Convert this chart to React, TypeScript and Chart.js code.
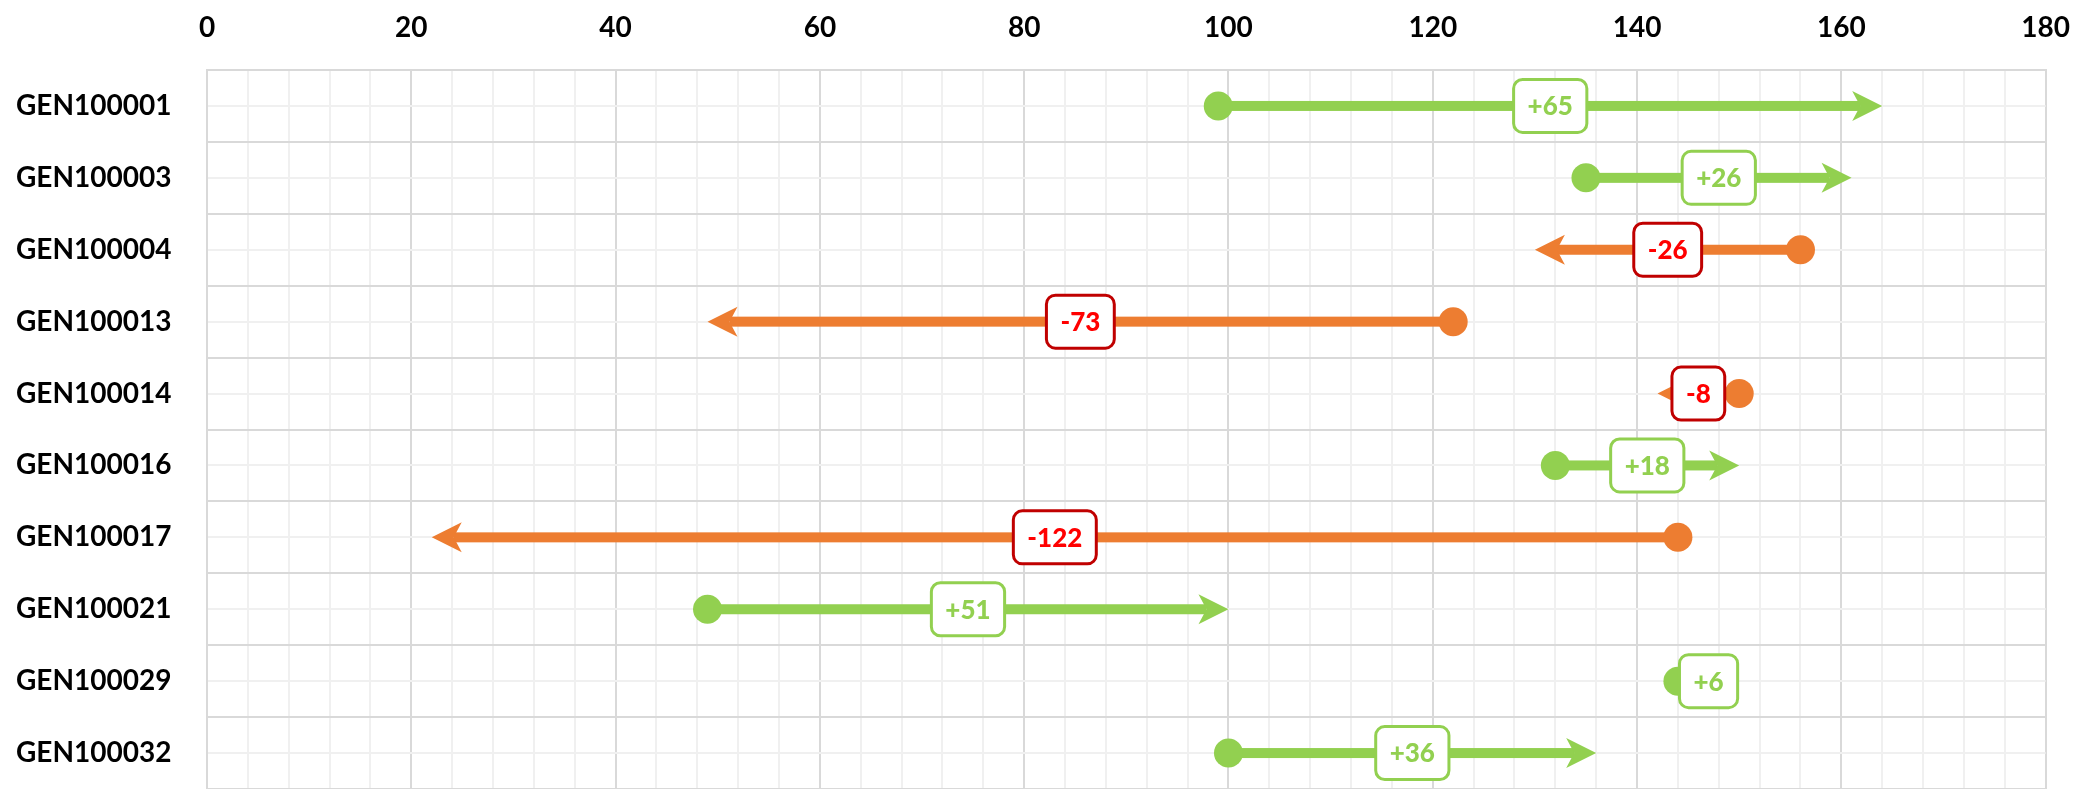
import React, { useEffect, useRef } from 'react';
import { Chart, registerables } from 'chart.js';

Chart.register(...registerables);

// ---- data ----
const genes = [
  'GEN100001',
  'GEN100003',
  'GEN100004',
  'GEN100013',
  'GEN100014',
  'GEN100016',
  'GEN100017',
  'GEN100021',
  'GEN100029',
  'GEN100032',
];
const startValues = [99, 135, 156, 122, 150, 132, 144, 49, 144, 100];
const endValues = [164, 161, 130, 49, 142, 150, 22, 100, 150, 136];

const xMin = 0;
const xMax = 180;
const xMajorStep = 20;
const xMinorStep = 4;

// ---- styles ----
const GREEN = '#92D050';
const ORANGE = '#ED7D31';
const RED_TEXT = '#FF0000';
const RED_BORDER = '#C00000';
const GRID_MAJOR = '#D9D9D9';
const GRID_MINOR = '#F0F0F0';
const FONT = 'Lato, "Open Sans", "DejaVu Sans", sans-serif';

const arrowPlugin = {
  id: 'arrowsAndLabels',
  beforeDatasetsDraw(chart: any) {
    const { ctx } = chart;
    const xs = chart.scales.x;
    const ys = chart.scales.y;
    const headLen = 30;
    const headHalf = 15;
    const notch = 22;
    const shaftHalf = 5;
    ctx.save();
    genes.forEach((_g, i) => {
      const x0 = xs.getPixelForValue(startValues[i]);
      const x1 = xs.getPixelForValue(endValues[i]);
      const yy = ys.getPixelForValue(i);
      const dir = x1 >= x0 ? 1 : -1;
      ctx.fillStyle = dir > 0 ? GREEN : ORANGE;
      const shaftEnd = x1 - dir * notch;
      ctx.fillRect(Math.min(x0, shaftEnd), yy - shaftHalf, Math.abs(shaftEnd - x0), shaftHalf * 2);
      ctx.beginPath();
      ctx.moveTo(x1, yy);
      ctx.lineTo(x1 - dir * headLen, yy - headHalf);
      ctx.lineTo(x1 - dir * notch, yy);
      ctx.lineTo(x1 - dir * headLen, yy + headHalf);
      ctx.closePath();
      ctx.fill();
    });
    ctx.restore();
  },
  afterDatasetsDraw(chart: any) {
    const { ctx } = chart;
    const xs = chart.scales.x;
    const ys = chart.scales.y;
    ctx.save();
    ctx.font = `900 26px ${FONT}`;
    ctx.textAlign = 'center';
    ctx.textBaseline = 'middle';
    genes.forEach((_g, i) => {
      const d = endValues[i] - startValues[i];
      const text = (d > 0 ? '+' : '') + d;
      const cx = (xs.getPixelForValue(startValues[i]) + xs.getPixelForValue(endValues[i])) / 2;
      const cy = ys.getPixelForValue(i);
      const tw = ctx.measureText(text).width;
      const w = tw + 28;
      const h = 53;
      ctx.beginPath();
      ctx.roundRect(cx - w / 2, cy - h / 2, w, h, 9);
      ctx.fillStyle = '#ffffff';
      ctx.fill();
      ctx.lineWidth = 3;
      ctx.strokeStyle = d > 0 ? GREEN : RED_BORDER;
      ctx.stroke();
      ctx.fillStyle = d > 0 ? GREEN : RED_TEXT;
      ctx.fillText(text, cx, cy + 1);
    });
    ctx.restore();
  },
};

export default function App() {
  const canvasRef = useRef<HTMLCanvasElement | null>(null);

  useEffect(() => {
    if (!canvasRef.current) return;
    const chart = new Chart(canvasRef.current, {
      type: 'scatter',
      data: {
        datasets: [
          {
            label: 'start',
            data: genes.map((_g, i) => ({ x: startValues[i], y: i })),
            pointRadius: 14.5,
            pointHoverRadius: 14.5,
            pointBorderWidth: 0,
            borderWidth: 0,
            backgroundColor: genes.map((_g, i) => (endValues[i] >= startValues[i] ? GREEN : ORANGE)),
            showLine: false,
            clip: false,
          },
        ],
      },
      options: {
        animation: false,
        responsive: false,
        events: [],
        layout: { autoPadding: false, padding: { left: 16, right: 28, top: 0, bottom: -1 } },
        plugins: {
          legend: { display: false },
          tooltip: { enabled: false },
        },
        scales: {
          x: {
            type: 'linear',
            position: 'top',
            min: xMin,
            max: xMax,
            afterFit: (scale: any) => {
              scale.height = 70;
            },
            ticks: {
              stepSize: xMinorStep,
              autoSkip: false,
              maxRotation: 0,
              padding: 25,
              color: '#000000',
              font: { family: FONT, size: 28, weight: 'bold' },
              callback: (v: any) => (Number(v) % xMajorStep === 0 ? String(v) : ''),
            },
            grid: {
              drawTicks: false,
              lineWidth: 2,
              color: (ctx: any) =>
                ctx.tick && ctx.tick.value % xMajorStep === 0 ? GRID_MAJOR : GRID_MINOR,
            },
            border: { display: true, color: GRID_MAJOR, width: 2 },
          },
          y: {
            type: 'linear',
            position: 'left',
            reverse: true,
            min: -0.5,
            max: genes.length - 0.5,
            afterFit: (scale: any) => {
              scale.width = 207 - 16;
              scale.paddingTop = 0;
              scale.paddingBottom = 0;
            },
            ticks: {
              stepSize: 0.5,
              autoSkip: false,
              crossAlign: 'far',
              padding: 0,
              color: '#000000',
              font: { family: FONT, size: 28, weight: 'bold' },
              callback: (v: any) => {
                const n = Number(v);
                return Number.isInteger(n) && genes[n] !== undefined ? genes[n] : '';
              },
            },
            grid: {
              drawTicks: false,
              lineWidth: 2,
              color: (ctx: any) =>
                ctx.tick && Number.isInteger(ctx.tick.value) ? GRID_MINOR : GRID_MAJOR,
            },
            border: { display: true, color: GRID_MAJOR, width: 2 },
          },
        },
      },
      plugins: [arrowPlugin],
    } as any);
    return () => {
      chart.destroy();
    };
  }, []);

  return (
    <div style={{ position: 'absolute', left: 0, top: 0, width: 2095, height: 789, background: '#fff' }}>
      <canvas ref={canvasRef} width={2095} height={789} style={{ width: 2095, height: 789, display: 'block' }} />
    </div>
  );
}
